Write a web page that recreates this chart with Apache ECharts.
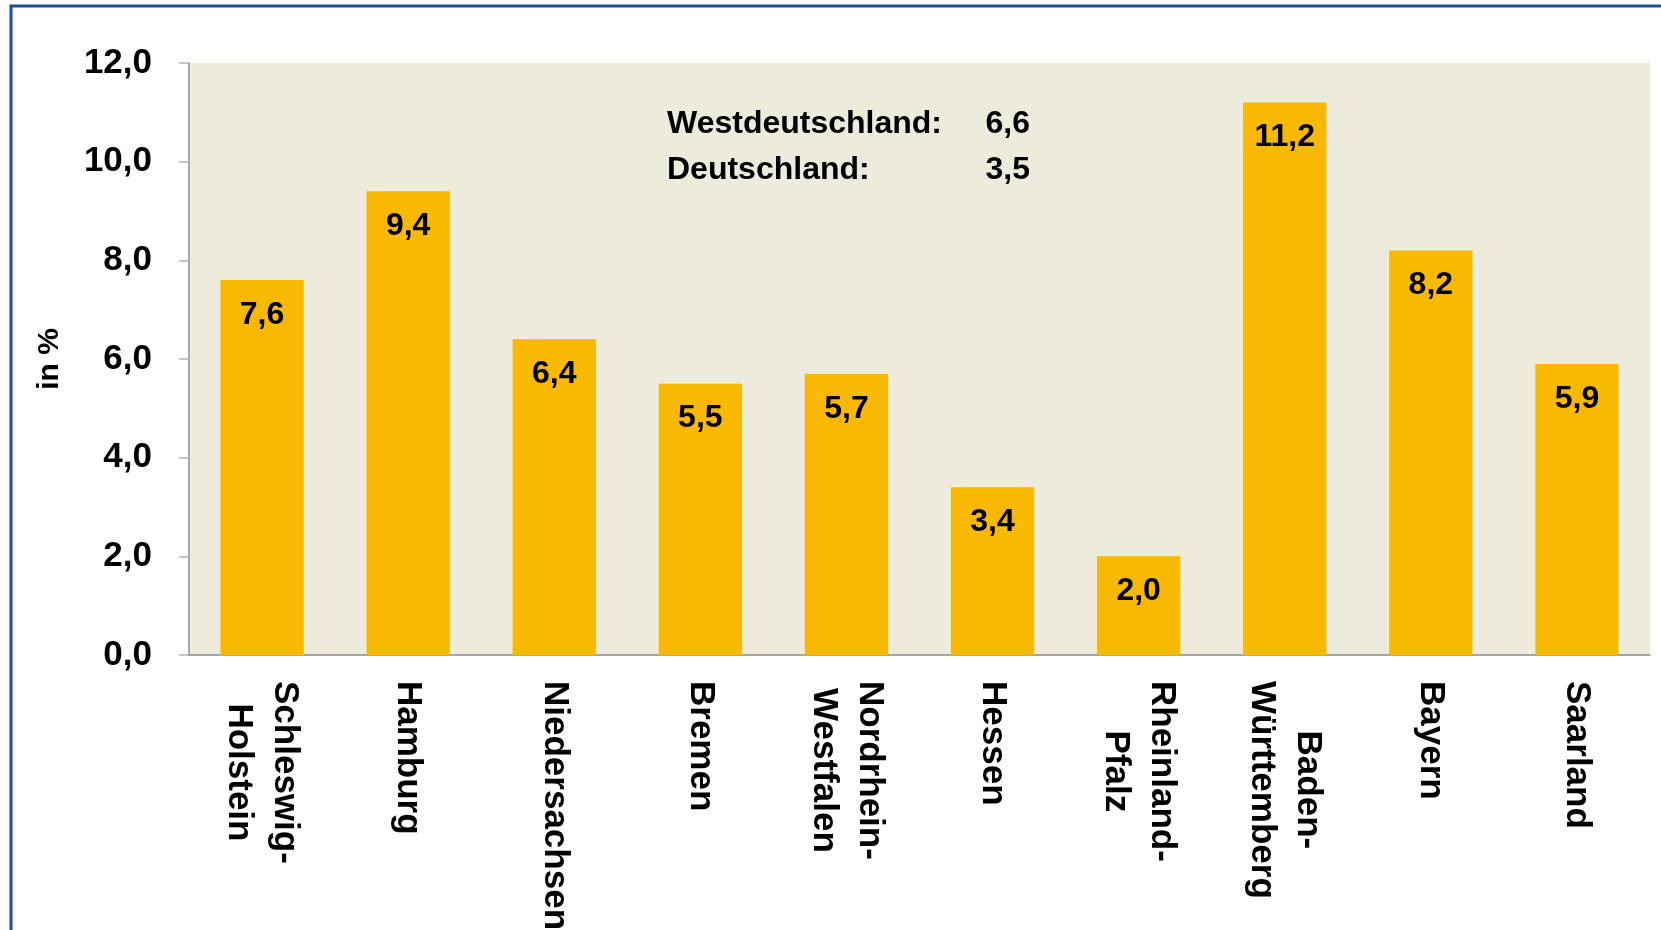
<!DOCTYPE html>
<html>
<head>
<meta charset="utf-8">
<title>Bundesländer in %</title>
<script src="https://cdn.jsdelivr.net/npm/echarts@6/dist/echarts.min.js"></script>
<style>
html, body {
    margin: 0;
    padding: 0;
    background: #fff;
}

#main {
    width: 1661px;
    height: 930px;
}
</style>
</head>
<body>
<div id="main"></div>
<script>
// Daten
var laender = ['Schleswig-\nHolstein', 'Hamburg', 'Niedersachsen', 'Bremen', 'Nordrhein-\nWestfalen',
    'Hessen', 'Rheinland-\nPfalz', 'Baden-\nWürttemberg', 'Bayern', 'Saarland'];
var werte = [7.6, 9.4, 6.4, 5.5, 5.7, 3.4, 2.0, 11.2, 8.2, 5.9];
var yTicks = [0, 2, 4, 6, 8, 10, 12];
var vergleichNamen = ['Westdeutschland:', 'Deutschland:'];
var vergleichWerte = [6.6, 3.5];

var schrift = '"Liberation Sans", Arial, sans-serif';

function komma(v) {
    return v.toFixed(1).replace('.', ',');
}

var myChart = echarts.init(document.getElementById('main'));

// Rahmen + Vergleichswerte oben im Diagramm
var extra = [{
    type: 'rect',
    shape: { x: 11, y: 6, width: 1700, height: 1000 },
    style: { fill: 'none', stroke: '#1B4F8F', lineWidth: 3 },
    z: 100
}];
vergleichNamen.forEach(function(name, i) {
    extra.push({
        type: 'text',
        x: 667,
        y: 108 + i * 46,
        style: {
            text: name,
            font: 'bold 32px ' + schrift,
            fill: '#000',
            textAlign: 'left',
            textVerticalAlign: 'top'
        },
        z: 100
    });
    extra.push({
        type: 'text',
        x: 1030,
        y: 108 + i * 46,
        style: {
            text: komma(vergleichWerte[i]),
            font: 'bold 32px ' + schrift,
            fill: '#000',
            textAlign: 'right',
            textVerticalAlign: 'top'
        },
        z: 100
    });
});

var option = {
    animation: false,
    backgroundColor: '#fff',
    textStyle: { fontFamily: schrift },
    grid: {
        left: 189,
        right: 11,
        top: 63,
        bottom: 275,
        outerBoundsMode: 'none',   // Beschriftung darf unten abgeschnitten sein
        show: true,
        backgroundColor: '#EDEBDC',
        borderWidth: 0
    },
    xAxis: {
        type: 'category',
        data: laender,
        axisLine: { lineStyle: { color: '#8C8C8C', width: 1.5 } },
        axisTick: { length: 11, lineStyle: { color: '#A0A0A0', width: 1.5 } },
        axisLabel: {
            rotate: -90,
            margin: 26,
            interval: 0,
            color: '#000',
            fontWeight: 'bold',
            fontSize: 35,
            lineHeight: 46,
            // jede Zeile in sich zentriert
            formatter: function(v) {
                return v.split('\n').map(function(s) {
                    return '{c|' + s + '}';
                }).join('\n');
            },
            rich: {
                c: {
                    align: 'center',
                    color: '#000',
                    fontWeight: 'bold',
                    fontSize: 35,
                    lineHeight: 46,
                    fontFamily: schrift
                }
            }
        }
    },
    yAxis: {
        type: 'value',
        min: yTicks[0],
        max: yTicks[yTicks.length - 1],
        interval: yTicks[1] - yTicks[0],
        name: 'in %',
        nameLocation: 'middle',
        nameRotate: 90,
        nameGap: 124,
        nameTextStyle: { color: '#000', fontWeight: 'bold', fontSize: 30 },
        splitLine: { show: false },
        axisLine: { show: true, lineStyle: { color: '#8C8C8C', width: 1.5 } },
        axisTick: { show: true, length: 10, lineStyle: { color: '#B4B4B4', width: 1.5 } },
        axisLabel: {
            margin: 37,
            color: '#000',
            fontWeight: 'bold',
            fontSize: 35,
            formatter: function(v) {
                return komma(v);
            }
        }
    },
    series: [{
        type: 'bar',
        data: werte,
        barCategoryGap: '43%',
        itemStyle: { color: '#F9B900' },
        label: {
            show: true,
            position: 'insideTop',
            distance: 19,
            color: '#000',
            fontWeight: 'bold',
            fontSize: 32,
            formatter: function(p) {
                return komma(p.value);
            }
        }
    }],
    graphic: extra
};

myChart.setOption(option);
</script>
</body>
</html>
